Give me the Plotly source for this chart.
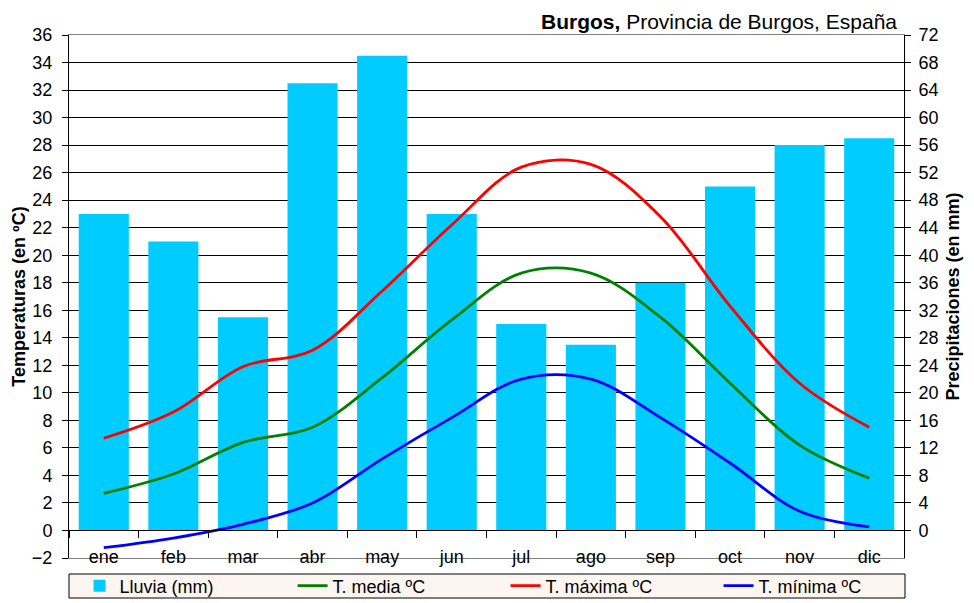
import plotly.graph_objects as go

# datos climaticos de Burgos
meses = ['ene', 'feb', 'mar', 'abr', 'may', 'jun', 'jul', 'ago', 'sep', 'oct', 'nov', 'dic']
lluvia = [46, 42, 31, 65, 69, 46, 30, 27, 36, 50, 56, 57]
t_media = [2.7, 4.1, 6.4, 7.5, 11.1, 15.3, 18.7, 18.7, 15.5, 10.7, 6.2, 3.8]
t_maxima = [6.7, 8.6, 11.9, 13.1, 17.4, 22.2, 26.4, 26.6, 22.8, 16.3, 10.7, 7.5]
t_minima = [-1.25, -0.55, 0.45, 2.0, 5.2, 8.2, 11.0, 11.0, 8.2, 4.9, 1.4, 0.27]

ticks_temp = list(range(-2, 37, 2))
ticks_lluvia = list(range(0, 73, 4))

FONT = 'Arial, Liberation Sans, sans-serif'

fig = go.Figure()

# barras de lluvia en el eje derecho
fig.add_trace(go.Bar(
    name='Lluvia (mm)',
    x=meses,
    y=lluvia,
    marker=dict(color='#00CCFF', line=dict(width=0)),
    xaxis='x',
    yaxis='y',
))

# temperaturas en el eje izquierdo
for nombre, valores, color in [
    ('T. media ºC', t_media, '#008000'),
    ('T. máxima ºC', t_maxima, '#FF0000'),
    ('T. mínima ºC', t_minima, '#0000FF'),
]:
    fig.add_trace(go.Scatter(
        name=nombre,
        x=meses,
        y=valores,
        mode='lines',
        line=dict(color=color, width=2.8, shape='spline', smoothing=1),
        xaxis='x2',
        yaxis='y2',
    ))

# la pagina tiene 8px de margen, asi que la figura es 8px mas pequeña
fig.update_layout(
    template='none',
    width=966,
    height=595,
    margin=dict(l=61, r=70, t=27, b=45, autoexpand=False),
    paper_bgcolor='white',
    plot_bgcolor='white',
    font=dict(family=FONT, size=18, color='black'),
    bargap=0.28,
    showlegend=True,
    xaxis=dict(
        type='category',
        categoryarray=meses,
        range=[-0.5, 11.5],
        automargin=False,
        showline=True,
        linecolor='#808080',
        linewidth=1,
        mirror=True,
        ticks='',
        showgrid=False,
        zeroline=False,
        ticklabelstandoff=-18,
        tickfont=dict(size=18),
    ),
    xaxis2=dict(
        type='category',
        categoryarray=meses,
        range=[-0.5, 11.5],
        overlaying='x',
        anchor='free',
        position=2 / 38,
        automargin=False,
        showline=True,
        linecolor='black',
        linewidth=1,
        ticks='outside',
        tickson='boundaries',
        ticklen=7,
        tickcolor='black',
        showticklabels=False,
        showgrid=False,
        zeroline=False,
    ),
    yaxis=dict(
        side='right',
        range=[-4, 72],
        tickmode='array',
        tickvals=ticks_lluvia,
        automargin=False,
        showgrid=True,
        gridcolor='black',
        gridwidth=1,
        zeroline=False,
        showline=True,
        linecolor='black',
        ticks='outside',
        ticklen=6,
        tickcolor='black',
        ticklabelstandoff=4,
        title=dict(text='<b>Precipitaciones (en mm)</b>', font=dict(size=18), standoff=8),
    ),
    yaxis2=dict(
        side='left',
        overlaying='y',
        anchor='x2',
        range=[-2, 36],
        tickmode='array',
        tickvals=ticks_temp,
        automargin=False,
        showgrid=False,
        zeroline=False,
        showline=True,
        linecolor='black',
        ticks='outside',
        ticklen=6,
        tickcolor='black',
        ticklabelstandoff=6,
        title=dict(text='<b>Temperaturas (en ºC)</b>', font=dict(size=18), standoff=1),
    ),
    legend=dict(
        orientation='h',
        x=1.033,
        xanchor='right',
        y=-0.0535,
        yanchor='middle',
        bgcolor='rgba(0,0,0,0)',
        borderwidth=0,
        entrywidth=168,
        entrywidthmode='pixels',
        font=dict(size=18),
        traceorder='normal',
    ),
    shapes=[dict(
        type='rect', xref='paper', yref='paper',
        x0=0, x1=1.0012, y0=-0.0765, y1=-0.0306,
        fillcolor='#FDF6F0', line=dict(color='black', width=1),
        layer='below',
    )],
    annotations=[dict(
        text='<b>Burgos,</b> Provincia de Burgos, España',
        xref='paper', yref='paper',
        x=0.994, y=1.0249,
        xanchor='right', yanchor='middle',
        showarrow=False,
        font=dict(size=21),
    )],
)

fig.write_html('out.html')
